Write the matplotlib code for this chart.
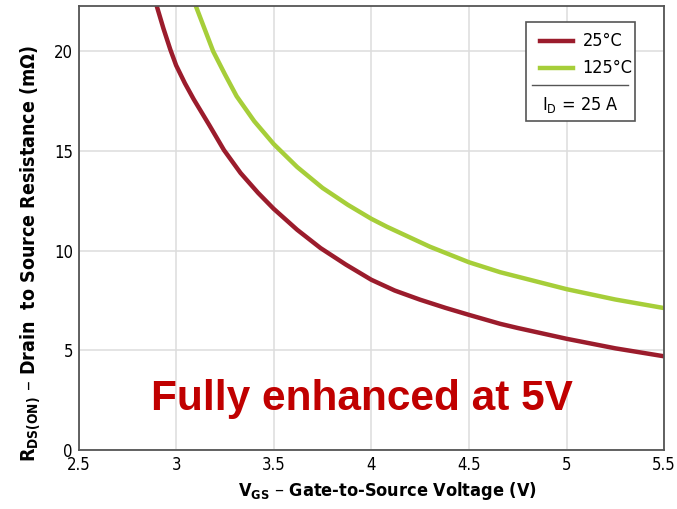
import matplotlib
matplotlib.use("Agg")
import matplotlib.pyplot as plt
from matplotlib.patches import Rectangle
from matplotlib.lines import Line2D

# values
vgs_25 = [2.90, 2.935, 2.97, 3.00, 3.045, 3.09, 3.17, 3.245, 3.33, 3.42, 3.50, 3.62,
          3.74, 3.87, 4.00, 4.12, 4.25, 4.38, 4.50, 4.66, 4.75, 5.00, 5.25, 5.50]
rds_25 = [22.3, 21.15, 20.1, 19.3, 18.4, 17.6, 16.3, 15.05, 13.9, 12.9, 12.1, 11.05,
          10.13, 9.3, 8.54, 8.0, 7.54, 7.13, 6.78, 6.33, 6.12, 5.58, 5.1, 4.7]

vgs_125 = [3.10, 3.19, 3.25, 3.31, 3.40, 3.50, 3.62, 3.75, 3.88, 4.00, 4.08, 4.30,
           4.50, 4.66, 5.00, 5.25, 5.50]
rds_125 = [22.3, 20.0, 18.85, 17.75, 16.5, 15.35, 14.2, 13.15, 12.3, 11.6, 11.2, 10.2,
           9.42, 8.92, 8.07, 7.55, 7.12]

x_ticks = [2.5, 3, 3.5, 4, 4.5, 5, 5.5]
x_tick_labels = ["2.5", "3", "3.5", "4", "4.5", "5", "5.5"]
y_ticks = [0, 5, 10, 15, 20]

RED = "#9B1C2C"
GREEN = "#A6CE39"

plt.rcParams['font.family'] = ['DejaVu Sans']
plt.rcParams['font.stretch'] = 'condensed'

fig = plt.figure(figsize=(6.77, 5.09), dpi=100)
ax = fig.add_axes([0.116, 0.116, 0.865, 0.873])

ax.plot(vgs_25, rds_25, color=RED, lw=3.2, solid_capstyle='butt', solid_joinstyle='round')
ax.plot(vgs_125, rds_125, color=GREEN, lw=3.2, solid_capstyle='butt', solid_joinstyle='round')

ax.set_xlim(2.5, 5.5)
ax.set_ylim(0, 22.3)
ax.set_xticks(x_ticks)
ax.set_xticklabels(x_tick_labels)
ax.set_yticks(y_ticks)
ax.tick_params(length=0, labelsize=12, pad=4)
ax.grid(True, color="#DDDDDD", lw=1.1)
ax.set_axisbelow(True)
for s in ax.spines.values():
    s.set_color("#555555")
    s.set_linewidth(1.3)

ax.set_xlabel(r"V$_{\mathregular{GS}}$ – Gate-to-Source Voltage (V)",
              fontsize=13, fontweight='bold')
ax.xaxis.set_label_coords(0.527, -0.068)
ax.set_ylabel(r"R$_{\mathregular{DS(ON)}}$ – Drain  to Source Resistance (mΩ)",
              fontsize=14, fontweight='bold')
ax.yaxis.set_label_coords(-0.06, 0.441)

ax.text(3.95, 2.0, "Fully enhanced at 5V", color="#C00000", fontsize=30.5,
        fontweight='bold', family=['Liberation Sans', 'DejaVu Sans'],
        fontstretch='normal', ha='center', va='baseline')

# legend box drawn by hand (includes the I_D condition row)
t = ax.transAxes
ax.add_patch(Rectangle((0.764, 0.741), 0.186, 0.223, transform=t,
                       facecolor="white", edgecolor="#555555", lw=1.2, zorder=5))
ax.add_line(Line2D([0.788, 0.845], [0.921, 0.921], transform=t, color=RED, lw=3.2, zorder=6))
ax.add_line(Line2D([0.788, 0.845], [0.859, 0.859], transform=t, color=GREEN, lw=3.2, zorder=6))
ax.text(0.861, 0.921, "25°C", transform=t, fontsize=13, va='center', zorder=6)
ax.text(0.861, 0.859, "125°C", transform=t, fontsize=13, va='center', zorder=6)
ax.add_line(Line2D([0.774, 0.939], [0.821, 0.821], transform=t, color="#555555", lw=1.0, zorder=6))
ax.text(0.857, 0.776, r"I$_{\mathregular{D}}$ = 25 A", transform=t, fontsize=13,
        ha='center', va='center', zorder=6)

fig.savefig("out.png", dpi=100)
